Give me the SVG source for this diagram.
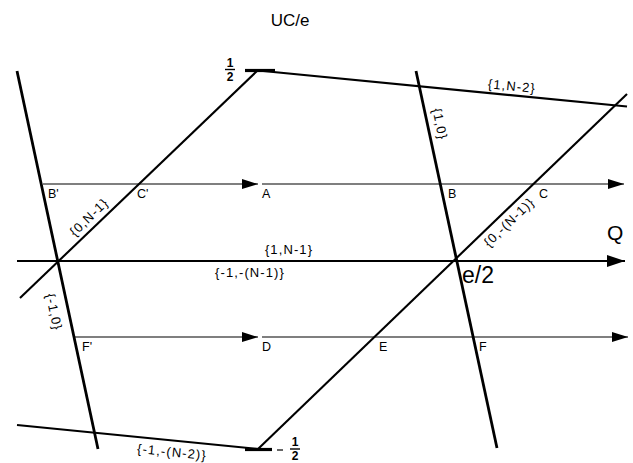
<svg xmlns="http://www.w3.org/2000/svg" width="633" height="463" viewBox="0 0 633 463">
<style>
text{font-family:"Liberation Sans",Arial,sans-serif;fill:#000}
.lbl{font-size:12.5px}
.br{font-size:13px;letter-spacing:1.1px;text-anchor:middle;dominant-baseline:central}
.frac{font-size:12px;font-weight:bold;text-anchor:middle}
.thick{stroke:#000;stroke-width:2.8;fill:none;stroke-linecap:butt}
.med{stroke:#000;stroke-width:2.1;fill:none}
.thin{stroke:#000;stroke-width:1.1;fill:none}
.stub{stroke:#000;stroke-width:3.2;fill:none}
</style>
<defs>
<marker id="ah" markerUnits="userSpaceOnUse" markerWidth="17" markerHeight="12" refX="16" refY="6" orient="auto">
<path d="M0,1 L16,6 L0,11 Z" fill="#000"/>
</marker>
<marker id="ahQ" markerUnits="userSpaceOnUse" markerWidth="19" markerHeight="14" refX="18" refY="7" orient="auto">
<path d="M0,1 L18,7 L0,13 Z" fill="#000"/>
</marker>
</defs>
<g id="connectors">
<line class="thin" x1="43" y1="184" x2="258" y2="184" marker-end="url(#ah)"/>
<line class="thin" x1="262" y1="184" x2="624" y2="184" marker-end="url(#ah)"/>
<line class="med" x1="17" y1="261" x2="625" y2="261" marker-end="url(#ahQ)"/>
<line class="thin" x1="75" y1="337" x2="258" y2="337" marker-end="url(#ah)"/>
<line class="thin" x1="262" y1="337" x2="628" y2="337" marker-end="url(#ah)"/>
</g>
<g id="cell-boundaries">
<line class="thick" x1="17" y1="71" x2="98" y2="449"/>
<line class="thick" x1="416" y1="71" x2="497" y2="448"/>
<line class="med" x1="20" y1="298" x2="257" y2="71"/>
<line class="med" x1="258" y1="449" x2="627" y2="94"/>
<line class="med" x1="258" y1="70.5" x2="627" y2="106.5"/>
<line class="med" x1="17" y1="425" x2="258" y2="449"/>
<line class="stub" x1="245" y1="70.5" x2="275" y2="70.5"/>
<line class="stub" x1="245" y1="449.5" x2="272" y2="449.5"/>
</g>
<g id="title"><text x="290" y="26" font-size="17" text-anchor="middle">UC/e</text></g>
<g id="half-top">
<text class="frac" x="230" y="67">1</text>
<line x1="225" y1="69.5" x2="235" y2="69.5" stroke="#000" stroke-width="1.4"/>
<text class="frac" x="230" y="81">2</text>
</g>
<g id="half-bottom">
<line x1="277" y1="450" x2="283" y2="450" stroke="#000" stroke-width="1.2"/>
<text class="frac" x="295" y="446">1</text>
<line x1="290" y1="449" x2="300" y2="449" stroke="#000" stroke-width="1.4"/>
<text class="frac" x="295" y="460">2</text>
</g>
<g id="Q"><text x="607" y="240" font-size="21">Q</text></g>
<g id="e2"><text x="462" y="283" font-size="23">e/2</text></g>
<g id="pA"><text class="lbl" x="262" y="198">A</text></g>
<g id="pB1"><text class="lbl" x="48" y="198">B'</text></g>
<g id="pC1"><text class="lbl" x="137" y="198">C'</text></g>
<g id="pB"><text class="lbl" x="448" y="198">B</text></g>
<g id="pC"><text class="lbl" x="539" y="198">C</text></g>
<g id="pD"><text class="lbl" x="262" y="351">D</text></g>
<g id="pF1"><text class="lbl" x="82" y="351">F'</text></g>
<g id="pE"><text class="lbl" x="379" y="351">E</text></g>
<g id="pF"><text class="lbl" x="479" y="351">F</text></g>
<g id="l-1N-2"><text class="br" transform="translate(512,86) rotate(5.6)">{1,N-2}</text></g>
<g id="l-10"><text class="br" transform="translate(440,124) rotate(78)">{1,0}</text></g>
<g id="l-0N-1"><text class="br" transform="translate(89,217) rotate(-44)">{0,N-1}</text></g>
<g id="l-0mN-1"><text class="br" transform="translate(509,222) rotate(-44)">{0,-(N-1)}</text></g>
<g id="l-1N-1"><text class="br" transform="translate(289,249)">{1,N-1}</text></g>
<g id="l-m1mN-1"><text class="br" transform="translate(250,272)">{-1,-(N-1)}</text></g>
<g id="l-m10"><text class="br" transform="translate(54,312) rotate(78)">{-1,0}</text></g>
<g id="l-m1mN-2"><text class="br" transform="translate(172,452) rotate(5.7)">{-1,-(N-2)}</text></g>
</svg>
